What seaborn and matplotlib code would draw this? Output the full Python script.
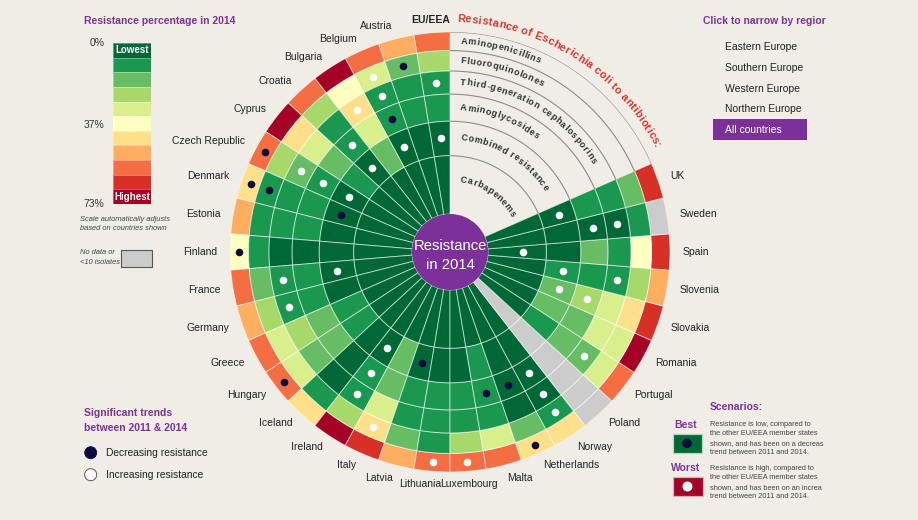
import numpy as np
import matplotlib
matplotlib.use("Agg")
import matplotlib.pyplot as plt
import seaborn as sns
from matplotlib.colors import ListedColormap
from matplotlib.font_manager import FontProperties
from matplotlib.patches import Rectangle, Circle
from matplotlib.transforms import offset_copy

W, H = 918, 520
BG = "#f0ede7"
PURPLE = "#7b3199"
NAVY = "#0b0b40"
TXT = "#222222"
RED = "#d5372a"

countries = ["EU/EEA", "Austria", "Belgium", "Bulgaria", "Croatia", "Cyprus",
             "Czech Republic", "Denmark", "Estonia", "Finland", "France", "Germany",
             "Greece", "Hungary", "Iceland", "Ireland", "Italy", "Latvia", "Lithuania",
             "Luxembourg", "Malta", "Netherlands", "Norway", "Poland", "Portugal",
             "Romania", "Slovakia", "Slovenia", "Spain", "Sweden", "UK"]
antibiotics = ["Aminopenicillins", "Fluoroquinolones", "Third-generation cephalosporins",
               "Aminoglycosides", "Combined resistance", "Carbapenems"]

nan = np.nan
# resistance % in 2014 (estimated from colour classes), one list per antibiotic
aminopenicillins = [56, 50, 56, 70, 56, 70, 56, 43, 50, 37, 56, 50, 56, 56, 43, 70,
                    63, 50, 56, 56, 56, 43, 43, nan, 56, 70, 63, 50, 63, nan, 63]
fluoroquinolones = [23, 17, 30, 37, 23, 43, 23, 10, 10, 10, 17, 23, 30, 30, 10, 23,
                    43, 17, 10, 23, 30, 17, 10, nan, 30, 30, 43, 23, 37, 10, 17]
cephalosporins = [10, 10, 10, 43, 10, 30, 17, 10, 10, 3, 10, 10, 23, 17, 3, 10,
                  30, 10, 10, 10, 10, 3, 3, nan, 17, 30, 30, 10, 10, 3, 10]
aminoglycosides = [10, 10, 10, 30, 10, 17, 10, 10, 10, 3, 10, 10, 17, 17, 3, 10,
                   17, 10, 10, 10, 10, 3, 3, nan, 17, 17, 23, 10, 17, 3, 10]
combined = [3, 3, 3, 17, 3, 10, 3, 3, 3, 3, 3, 3, 10, 10, 3, 3,
            17, 3, 3, 3, 10, 3, 3, nan, 10, 17, 17, 10, 3, 3, 3]
carbapenems = [3, 3, 3, 3, 3, 3, 3, 3, 3, 3, 3, 3, 3, 3, 3, 3,
               3, 3, 3, 3, 3, 3, 3, nan, 3, 3, 3, 3, 3, 3, 3]

# significant trend 2011-2014: -1 decreasing, 1 increasing, 0 none
trend_amino = [0, 0, 0, 0, 0, 0, -1, -1, 0, -1, 0, 0, 0, -1, 0, 0,
               0, 0, 1, 1, 0, -1, 0, 0, 0, 0, 0, 0, 0, 0, 0]
trend_fq = [0, -1, 1, 0, 0, 0, 0, -1, 0, 0, 0, 0, 0, 0, 0, 0,
            1, 0, 0, 0, 0, 0, 1, 0, 0, 0, 0, 0, 0, 0, 0]
trend_3gc = [1, 0, 1, 1, 0, 0, 1, 0, 0, 0, 1, 1, 0, 0, 0, 1,
             0, 0, 0, 0, 0, 0, 1, 0, 1, 0, 0, 1, 0, 1, 0]
trend_aminogly = [0, 0, -1, 0, 1, 0, 1, 0, 0, 0, 0, 0, 0, 0, 0, 1,
                  0, 0, 0, 0, -1, -1, 1, 0, 0, 0, 1, 0, 0, 1, 0]
trend_combined = [1, 0, 1, 0, 1, 0, 1, -1, 0, 0, 1, 0, 0, 0, 0, 1,
                  0, -1, 0, 0, 0, 0, 0, 0, 0, 0, 1, 1, 0, 0, 1]
trend_carba = [0, 0, 0, 0, 0, 0, 0, 0, 0, 0, 0, 0, 0, 0, 0, 0,
               0, 0, 0, 0, 0, 0, 0, 0, 0, 0, 0, 0, 1, 0, 0]

scale_max = 73
scale_ticks = [0, 37, 73]
scale_colors = ["#006837", "#1a9850", "#66bd63", "#a6d96a", "#d9ef8b", "#ffffbf",
                "#fee08b", "#fdae61", "#f46d43", "#d73027", "#a50026"]
regions = ["Eastern Europe", "Southern Europe", "Western Europe", "Northern Europe"]

sns.set_theme(style="white", rc={"figure.facecolor": BG, "axes.facecolor": BG,
                                 "savefig.facecolor": BG})
plt.rcParams["font.family"] = ["Liberation Sans", "DejaVu Sans"]
palette = sns.color_palette(scale_colors)

fig = plt.figure(figsize=(W / 100, H / 100), dpi=100)
rend = fig.canvas.get_renderer()

# overlay in pixel coordinates for legends
ov = fig.add_axes([0, 0, 1, 1])
ov.set_xlim(0, W)
ov.set_ylim(H, 0)
ov.set_axis_off()

# ---- the wheel
cx, cy, R0, R1 = 450, 252, 38, 220
ax = fig.add_axes([(cx - R1) / W, (H - cy - R1) / H, 2 * R1 / W, 2 * R1 / H],
                  projection="polar")
ax.set_ylim(0, R1)
ax.set_axis_off()

n_slots = 38
step = 2 * np.pi / n_slots
theta = np.pi / 2 + step * (np.arange(len(countries)) + 0.5)
edges = np.sqrt(R0 ** 2 + np.arange(7) * (R1 ** 2 - R0 ** 2) / 6)
bins = np.linspace(0, scale_max, 12)


def to_color(v):
    if np.isnan(v):
        return "#cccccc"
    return palette[int(np.clip(np.digitize(v, bins) - 1, 0, 10))]


rings = [aminopenicillins, fluoroquinolones, cephalosporins, aminoglycosides, combined, carbapenems]
trends = [trend_amino, trend_fq, trend_3gc, trend_aminogly, trend_combined, trend_carba]
for j, (vals, tr) in enumerate(zip(rings, trends)):
    inner, outer = edges[5 - j], edges[6 - j]
    ax.bar(theta, outer - inner, width=step, bottom=inner,
           color=[to_color(v) for v in vals], edgecolor=(1, 1, 1, 0.55), linewidth=0.7)
    tr = np.array(tr)
    rm = np.sqrt((inner ** 2 + outer ** 2) / 2)
    for sign, col in [(-1, NAVY), (1, "white")]:
        sel = tr == sign
        ax.scatter(theta[sel], np.full(sel.sum(), rm), s=30, color=col,
                   linewidths=0, zorder=3)

ax.bar(0, R0, width=2 * np.pi, bottom=0, color=PURPLE, linewidth=0, zorder=4)
ax.text(np.pi / 2, 5.5, "Resistance", color="white", fontsize=10.6, ha="center",
        va="center", zorder=10)
ax.text(3 * np.pi / 2, 13, "in 2014", color="white", fontsize=10.6, ha="center",
        va="center", zorder=10)

# arcs in the gap
t_end = np.pi / 2 + len(countries) * step - 2 * np.pi
tt = np.linspace(np.pi / 2, t_end, 120)
for r in edges[1:]:
    ax.plot(tt, np.full_like(tt, r), color="#8c8c8c", lw=0.8)


def arc_text(s, r, start, size, weight, color, spacing):
    fp = FontProperties(family=["Liberation Sans", "DejaVu Sans"], size=size, weight=weight)
    ref = rend.get_text_width_height_descent("I", fp, ismath=False)[0]
    pos = [rend.get_text_width_height_descent(s[:k] + "I", fp, ismath=False)[0] - ref
           for k in range(len(s) + 1)]
    for k, ch in enumerate(s):
        if ch == " ":
            continue
        d = start + (pos[k] + pos[k + 1]) / 2 + spacing * k
        a = np.pi / 2 - d / r
        ax.text(a, r, ch, fontproperties=fp, color=color, ha="center", va="center",
                rotation=np.degrees(a) - 90, rotation_mode="anchor")


for j, name in enumerate(antibiotics):
    inner, outer = edges[5 - j], edges[6 - j]
    arc_text(name, np.sqrt((inner ** 2 + outer ** 2) / 2), 10.5, 6.5, "bold", "#333333", 0.7)
arc_text("Resistance of Escherichia coli to antibiotics:", 233, 7, 7.9, "bold", RED, 0.35)

# country labels
nudge = {"Lithuania": -11}
for i, name in enumerate(countries):
    c = np.cos(theta[i])
    ha = "center" if abs(c) < 0.1 else ("right" if c < 0 else "left")
    tr = offset_copy(ax.transData, fig=fig, x=nudge.get(name, 0), y=0, units="dots")
    ax.text(theta[i], 233, name, transform=tr, ha=ha, va="center", fontsize=7.5,
            color=TXT, fontweight="bold" if name == "EU/EEA" else "normal")

# ---- colour scale legend (seaborn heatmap)
ov.text(83.5, 21, "Resistance percentage in 2014", color=PURPLE, fontsize=7.5,
        fontweight="bold", va="center")
cax = fig.add_axes([113 / W, 1 - 204 / H, 38 / W, 161 / H])
sns.heatmap(np.arange(11).reshape(-1, 1), cmap=ListedColormap(palette), cbar=False,
            xticklabels=False, yticklabels=False, linewidths=0.4,
            linecolor=(1, 1, 1, 0.35), ax=cax)
cax.text(0.5, 0.5, "Lowest", color="white", fontsize=7, fontweight="bold", ha="center", va="center")
cax.text(0.5, 10.5, "Highest", color="white", fontsize=7, fontweight="bold", ha="center", va="center")
for v in scale_ticks:
    cax.text(-0.22, v / scale_max * 11, f"{v}%", ha="right", va="center", fontsize=7.5,
             color="#333333", clip_on=False)
ov.text(80, 219.5, "Scale automatically adjusts", fontsize=5.4, style="italic", color="#444444", va="center")
ov.text(80, 228.7, "based on countries shown", fontsize=5.4, style="italic", color="#444444", va="center")
ov.text(80, 252.5, "No data or", fontsize=5.4, style="italic", color="#444444", va="center")
ov.text(80, 262.5, "<10 isolates", fontsize=5.4, style="italic", color="#444444", va="center")
ov.add_patch(Rectangle((121, 250), 30.5, 16.5, facecolor="#cccccc", edgecolor="#555555", lw=0.8))

# ---- region selector
ov.text(703, 21.3, "Click to narrow by regior", color=PURPLE, fontsize=7.5, fontweight="bold", va="center")
for k, reg in enumerate(regions):
    ov.text(725, 47.3 + 20.7 * k, reg, fontsize=7.5, color=TXT, va="center")
ov.add_patch(Rectangle((713, 119), 94, 21, facecolor=PURPLE, edgecolor="none"))
ov.text(725, 130, "All countries", fontsize=7.5, color="white", va="center")

# ---- trend legend
ov.text(84, 412.7, "Significant trends", color=PURPLE, fontsize=7.5, fontweight="bold", va="center")
ov.text(84, 428.3, "between 2011 & 2014", color=PURPLE, fontsize=7.5, fontweight="bold", va="center")
ov.add_patch(Circle((90.7, 452.7), 6, facecolor=NAVY, edgecolor=NAVY, lw=0.6))
ov.text(106.5, 453, "Decreasing resistance", fontsize=7.4, color=TXT, va="center")
ov.add_patch(Circle((90.7, 474.7), 6, facecolor="white", edgecolor="#555555", lw=0.7))
ov.text(106.5, 475, "Increasing resistance", fontsize=7.4, color=TXT, va="center")

# ---- scenarios
ov.text(710, 407.3, "Scenarios:", color=PURPLE, fontsize=7.5, fontweight="bold", va="center")
ov.text(686, 425, "Best", color=PURPLE, fontsize=7.5, fontweight="bold", ha="center", va="center")
ov.add_patch(Rectangle((672.5, 434), 29.5, 18.5, facecolor=scale_colors[0], edgecolor="#b5d6bd", lw=0.9))
ov.add_patch(Circle((687, 443.3), 4.8, facecolor=NAVY, edgecolor="none"))
ov.text(686, 468.3, "Worst", color=PURPLE, fontsize=7.5, fontweight="bold", ha="center", va="center")
ov.add_patch(Rectangle((672.5, 477), 30, 19, facecolor=scale_colors[-1], edgecolor="#e3a9b6", lw=0.9))
ov.add_patch(Circle((687.5, 486.5), 5, facecolor="white", edgecolor="none"))
best = ["Resistance is low, compared to", "the other EU/EEA member states",
        "shown, and has been on a decreas", "trend between 2011 and 2014."]
worst = ["Resistance is high, compared to", "the other EU/EEA member states",
         "shown, and has been on an increa", "trend between 2011 and 2014."]
for k, line in enumerate(best):
    ov.text(710, 424 + 9.6 * k, line, fontsize=5.3, color="#444444", va="center")
for k, line in enumerate(worst):
    ov.text(710, 468 + 9.6 * k, line, fontsize=5.3, color="#444444", va="center")

fig.savefig("out.png", dpi=100, facecolor=BG)
